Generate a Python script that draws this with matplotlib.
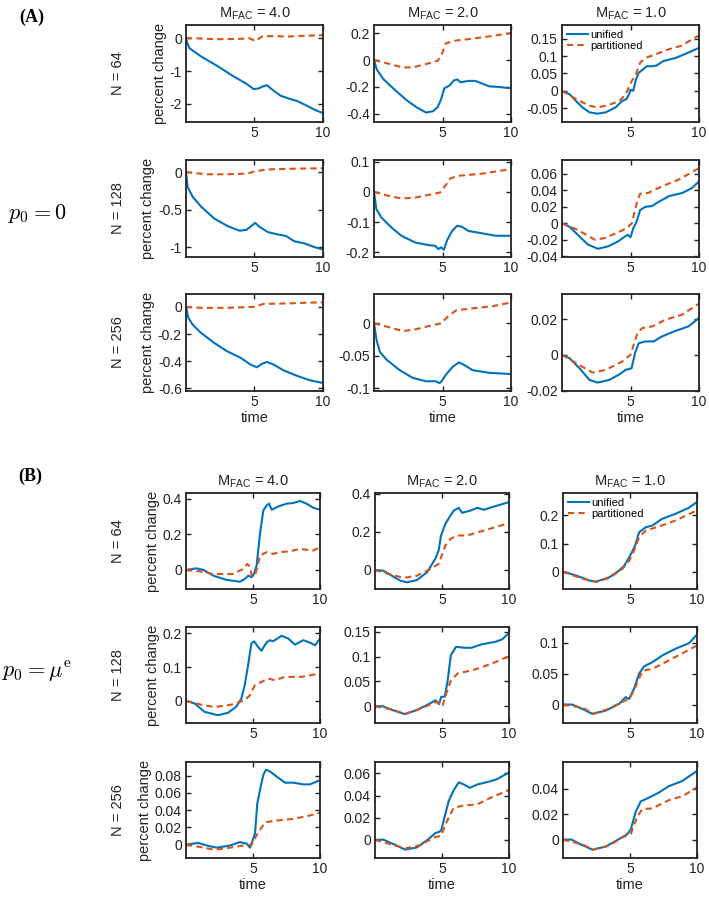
import matplotlib
matplotlib.use("Agg")
import matplotlib.pyplot as plt
from matplotlib.ticker import FuncFormatter

plt.rcParams['font.family'] = ['Liberation Sans', 'DejaVu Sans']
plt.rcParams['axes.unicode_minus'] = False
plt.rcParams['mathtext.fontset'] = 'cm'

# ---------------- labels ----------------
col_titles = ['4.0', '2.0', '1.0']
row_labels = ['N = 64', 'N = 128', 'N = 256']
part_labels = ['(A)', '(B)']
part_p0 = [r'$p_0 = 0$', r'$p_0 = \mu^{\mathrm{e}}$']
series_names = ['unified', 'partitioned']
x_ticks = [5, 10]

# ---------------- Part A data ----------------
# A row1 col1 (M=4.0, N=64)
A11_ut = [0, 0.07, 0.24, 1.08, 2.3, 3.5, 4.46, 4.94, 5.3, 5.6, 5.9, 6.4, 6.9, 7.6, 8.1, 8.8, 9.4, 10]
A11_u = [0, -0.12, -0.3, -0.55, -0.85, -1.17, -1.4, -1.55, -1.53, -1.47, -1.43, -1.6, -1.75, -1.85, -1.91, -2.05, -2.18, -2.28]
A11_pt = [0, 1, 2, 3, 4, 4.6, 5.1, 5.3, 5.6, 6.5, 7.5, 8.5, 10]
A11_p = [0, -0.01, -0.03, -0.03, -0.02, 0.0, -0.09, -0.02, 0.06, 0.06, 0.05, 0.07, 0.09]
A11_ticks = [-2, -1, 0]
A11_lim = (-2.55, 0.4)

# A row1 col2 (M=2.0, N=64)
A12_ut = [0, 0.2, 0.67, 1.4, 2.4, 3.1, 3.8, 4.3, 4.65, 4.9, 5.13, 5.5, 5.85, 6.1, 6.3, 6.9, 7.4, 7.9, 8.4, 9.1, 10]
A12_u = [0, -0.07, -0.14, -0.21, -0.3, -0.35, -0.39, -0.38, -0.35, -0.29, -0.21, -0.19, -0.15, -0.145, -0.165, -0.155, -0.155, -0.175, -0.195, -0.2, -0.21]
A12_pt = [0, 1.16, 2.1, 2.8, 3.8, 4.65, 4.9, 5.25, 6.0, 6.9, 8.4, 10]
A12_p = [0, -0.03, -0.055, -0.055, -0.03, -0.005, 0.03, 0.125, 0.145, 0.155, 0.175, 0.2]
A12_ticks = [-0.4, -0.2, 0, 0.2]
A12_lim = (-0.46, 0.26)

# A row1 col3 (M=1.0, N=64)
A13_ut = [0, 0.55, 1.04, 1.5, 2.0, 2.6, 3.2, 3.9, 4.4, 4.7, 4.9, 5.0, 5.2, 5.4, 5.6, 5.85, 6.2, 6.6, 6.9, 7.4, 8.3, 9.2, 10]
A13_u = [0, -0.01, -0.03, -0.048, -0.062, -0.066, -0.062, -0.048, -0.029, -0.024, -0.01, 0.003, 0.0, 0.033, 0.052, 0.06, 0.071, 0.071, 0.073, 0.086, 0.095, 0.11, 0.124]
A13_pt = [0, 1.04, 2.0, 2.6, 3.4, 4.2, 4.65, 5.1, 5.4, 5.7, 6.1, 6.8, 7.8, 8.7, 10]
A13_p = [0, -0.024, -0.043, -0.048, -0.041, -0.029, -0.01, 0.029, 0.048, 0.081, 0.095, 0.105, 0.12, 0.13, 0.16]
A13_ticks = [-0.05, 0, 0.05, 0.1, 0.15]
A13_lim = (-0.09, 0.19)

# A row2 col1 (M=4.0, N=128)
A21_ut = [0, 0.12, 0.49, 1.1, 2.07, 3.05, 3.9, 4.4, 4.76, 5.05, 5.37, 6.0, 6.7, 7.3, 7.9, 8.66, 9.4, 10]
A21_u = [0, -0.2, -0.33, -0.46, -0.62, -0.72, -0.78, -0.77, -0.72, -0.676, -0.73, -0.8, -0.83, -0.85, -0.92, -0.95, -1.0, -1.03]
A21_pt = [0, 1.5, 3.0, 4.5, 5.0, 6.0, 8.0, 10]
A21_p = [0, -0.03, -0.03, -0.02, 0.01, 0.035, 0.045, 0.05]
A21_ticks = [-1, -0.5, 0]
A21_lim = (-1.13, 0.16)

# A row2 col2 (M=2.0, N=128)
A22_ut = [0, 0.17, 0.54, 1.28, 2.0, 3.0, 4.0, 4.47, 4.7, 4.9, 5.1, 5.33, 5.7, 6.07, 6.4, 6.9, 7.9, 8.9, 10]
A22_u = [0, -0.057, -0.085, -0.118, -0.145, -0.167, -0.176, -0.178, -0.189, -0.183, -0.191, -0.16, -0.129, -0.112, -0.115, -0.129, -0.137, -0.145, -0.145]
A22_pt = [0, 1.03, 2.0, 3.0, 4.0, 4.84, 5.2, 5.6, 6.2, 7.9, 10]
A22_p = [0, -0.013, -0.022, -0.019, -0.01, -0.002, 0.02, 0.045, 0.053, 0.06, 0.075]
A22_ticks = [-0.2, -0.1, 0, 0.1]
A22_lim = (-0.215, 0.105)

# A row2 col3 (M=1.0, N=128)
A23_ut = [0, 0.54, 1.15, 1.9, 2.63, 3.37, 4.1, 4.6, 4.8, 5.0, 5.2, 5.45, 5.7, 6.07, 6.56, 7.05, 7.8, 8.8, 9.5, 10]
A23_u = [0, -0.004, -0.014, -0.026, -0.031, -0.028, -0.022, -0.016, -0.014, -0.017, -0.006, 0.002, 0.016, 0.02, 0.021, 0.026, 0.033, 0.037, 0.043, 0.051]
A23_pt = [0, 1.15, 2.4, 3.1, 4.1, 4.7, 5.1, 5.45, 5.7, 6.3, 7.3, 8.5, 10]
A23_p = [0, -0.008, -0.02, -0.018, -0.011, -0.006, 0.0, 0.024, 0.036, 0.037, 0.045, 0.053, 0.067]
A23_ticks = [-0.04, -0.02, 0, 0.02, 0.04, 0.06]
A23_lim = (-0.041, 0.077)

# A row3 col1 (M=4.0, N=256)
A31_ut = [0, 0.17, 0.48, 1.08, 2.05, 3.0, 4.0, 4.7, 5.18, 5.54, 5.9, 6.4, 7.1, 8.07, 9.04, 10]
A31_u = [0, -0.08, -0.13, -0.19, -0.265, -0.327, -0.376, -0.425, -0.445, -0.42, -0.406, -0.425, -0.467, -0.507, -0.541, -0.561]
A31_pt = [0, 1.08, 3.0, 4.94, 5.66, 7.1, 10]
A31_p = [0, -0.007, -0.007, 0.0, 0.022, 0.025, 0.034]
A31_ticks = [-0.6, -0.4, -0.2, 0]
A31_lim = (-0.62, 0.095)

# A row3 col2 (M=2.0, N=256)
A32_ut = [0, 0.19, 0.43, 0.92, 1.88, 2.84, 3.8, 4.5, 4.77, 4.9, 5.25, 5.73, 6.2, 6.58, 7.2, 8.4, 10]
A32_u = [0, -0.026, -0.044, -0.056, -0.072, -0.084, -0.089, -0.089, -0.092, -0.09, -0.079, -0.067, -0.06, -0.064, -0.072, -0.076, -0.078]
A32_pt = [0, 0.92, 2.1, 3.08, 4.05, 4.9, 5.37, 6.0, 7.2, 8.6, 10]
A32_p = [0, -0.005, -0.012, -0.009, -0.004, 0.0, 0.01, 0.02, 0.023, 0.026, 0.032]
A32_ticks = [-0.1, -0.05, 0]
A32_lim = (-0.104, 0.045)

# A row3 col3 (M=1.0, N=256)
A33_ut = [0, 0.55, 1.28, 2.0, 2.6, 3.45, 4.17, 4.65, 5.08, 5.33, 5.6, 6.1, 6.7, 7.3, 8.15, 9.23, 10]
A33_u = [0, -0.0019, -0.0075, -0.014, -0.0155, -0.014, -0.011, -0.0084, -0.0075, 0.001, 0.0065, 0.0075, 0.0075, 0.0103, 0.013, 0.0159, 0.0206]
A33_pt = [0, 1.04, 2.24, 3.2, 4.4, 5.0, 5.5, 5.86, 6.6, 7.54, 8.75, 10]
A33_p = [0, -0.0047, -0.0099, -0.0084, -0.0037, 0.0, 0.012, 0.015, 0.0159, 0.0196, 0.0224, 0.0286]
A33_ticks = [-0.02, 0, 0.02]
A33_lim = (-0.0202, 0.034)

# ---------------- Part B data ----------------
B11_ut = [0, 0.8, 1.3, 2.04, 3.03, 4.03, 4.4, 4.65, 4.9, 5.07, 5.27, 5.52, 5.77, 6.02, 6.2, 6.4, 6.9, 7.5, 8.0, 8.5, 9.0, 9.5, 10]
B11_u = [0, 0.009, 0.0, -0.032, -0.056, -0.066, -0.05, -0.032, -0.041, -0.023, 0.024, 0.203, 0.334, 0.362, 0.372, 0.338, 0.357, 0.372, 0.376, 0.387, 0.372, 0.349, 0.338]
B11_pt = [0, 1.05, 2.04, 3.5, 4.28, 4.58, 4.78, 4.9, 5.15, 5.32, 5.52, 6.02, 6.5, 7.0, 7.5, 8.0, 8.5, 9.5, 10]
B11_p = [0, -0.008, -0.023, -0.023, 0.006, 0.034, 0.015, -0.032, -0.032, 0.015, 0.081, 0.1, 0.09, 0.1, 0.103, 0.109, 0.118, 0.109, 0.128]
B11_ticks = [0, 0.2, 0.4]
B11_lim = (-0.107, 0.432)

B12_ut = [0, 0.63, 1.13, 1.88, 2.38, 3.13, 3.88, 4.5, 4.75, 4.93, 5.25, 5.63, 5.88, 6.25, 6.5, 7.13, 7.63, 8.13, 8.88, 10]
B12_u = [0, -0.004, -0.025, -0.056, -0.065, -0.053, -0.012, 0.058, 0.102, 0.181, 0.242, 0.286, 0.312, 0.326, 0.3, 0.312, 0.326, 0.316, 0.333, 0.356]
B12_pt = [0, 0.88, 2.13, 3.13, 4.13, 4.75, 5.25, 5.63, 6.13, 6.88, 8.13, 10]
B12_p = [0, -0.018, -0.042, -0.03, 0.005, 0.032, 0.128, 0.163, 0.181, 0.181, 0.207, 0.246]
B12_ticks = [0, 0.2, 0.4]
B12_lim = (-0.1, 0.404)

B13_ut = [0, 0.99, 1.98, 2.47, 3.46, 4.2, 4.57, 4.94, 5.14, 5.38, 5.68, 6.17, 6.67, 7.4, 8.4, 9.38, 10]
B13_u = [0, -0.014, -0.032, -0.036, -0.02, 0.004, 0.021, 0.051, 0.069, 0.093, 0.14, 0.158, 0.164, 0.188, 0.206, 0.227, 0.248]
B13_pt = [0, 1.48, 2.47, 3.46, 4.44, 4.94, 5.31, 5.68, 6.17, 7.16, 8.4, 10]
B13_p = [0, -0.026, -0.036, -0.023, 0.01, 0.039, 0.075, 0.123, 0.146, 0.161, 0.182, 0.218]
B13_ticks = [0, 0.1, 0.2]
B13_lim = (-0.062, 0.28)

B21_ut = [0, 0.63, 1.38, 2.38, 3.13, 3.75, 4.13, 4.38, 4.63, 4.88, 5.08, 5.38, 5.63, 6.0, 6.25, 6.5, 7.13, 7.63, 8.13, 8.75, 9.25, 9.63, 10]
B21_u = [0, -0.007, -0.032, -0.042, -0.035, -0.017, 0.007, 0.046, 0.105, 0.169, 0.176, 0.159, 0.148, 0.172, 0.179, 0.176, 0.192, 0.184, 0.166, 0.179, 0.172, 0.164, 0.184]
B21_pt = [0, 1.13, 2.13, 3.38, 4.38, 4.75, 5.13, 5.63, 6.13, 6.63, 7.38, 8.63, 10]
B21_p = [0, -0.011, -0.018, -0.011, 0.002, 0.016, 0.046, 0.056, 0.066, 0.061, 0.071, 0.071, 0.081]
B21_ticks = [0, 0.1, 0.2]
B21_lim = (-0.065, 0.218)

B22_ut = [0, 0.56, 1.33, 2.22, 3.11, 4.0, 4.52, 4.77, 4.95, 5.2, 5.41, 5.66, 6.05, 6.68, 7.2, 7.96, 8.98, 9.49, 10]
B22_u = [0, 0.0, -0.008, -0.016, -0.008, 0.004, 0.012, 0.004, 0.019, 0.019, 0.049, 0.103, 0.12, 0.118, 0.118, 0.125, 0.13, 0.135, 0.148]
B22_pt = [0, 1.33, 2.22, 3.37, 4.64, 5.03, 5.28, 5.66, 6.17, 7.45, 8.72, 10]
B22_p = [0, -0.007, -0.016, -0.005, 0.009, 0.0, 0.022, 0.052, 0.066, 0.074, 0.086, 0.101]
B22_ticks = [0, 0.05, 0.1, 0.15]
B22_lim = (-0.034, 0.16)

B23_ut = [0, 0.68, 1.43, 2.18, 3.18, 4.18, 4.68, 4.93, 5.3, 5.68, 6.05, 6.68, 7.43, 8.43, 9.43, 10]
B23_u = [0, 0.0, -0.007, -0.015, -0.01, 0.001, 0.012, 0.009, 0.026, 0.05, 0.062, 0.069, 0.08, 0.091, 0.1, 0.114]
B23_pt = [0, 1.43, 2.3, 3.43, 4.18, 4.93, 5.3, 5.93, 6.68, 7.93, 10]
B23_p = [0, -0.005, -0.015, -0.007, 0.002, 0.009, 0.023, 0.055, 0.058, 0.072, 0.096]
B23_ticks = [0, 0.05, 0.1]
B23_lim = (-0.03, 0.126)

B31_ut = [0, 0.92, 1.54, 2.29, 3.28, 4.03, 4.53, 4.78, 5.02, 5.15, 5.32, 5.57, 5.77, 5.97, 6.27, 6.77, 7.39, 8.01, 8.76, 9.25, 10]
B31_u = [0, 0.002, -0.001, -0.0035, -0.001, 0.003, 0.001, -0.0035, 0.007, 0.013, 0.048, 0.067, 0.081, 0.087, 0.085, 0.079, 0.072, 0.072, 0.07, 0.07, 0.075]
B31_pt = [0, 1.04, 2.16, 3.28, 4.28, 4.9, 5.27, 5.9, 6.77, 8.01, 9.0, 10]
B31_p = [0, -0.0027, -0.006, -0.0035, -0.001, 0.0, 0.011, 0.026, 0.028, 0.03, 0.033, 0.037]
B31_ticks = [0, 0.02, 0.04, 0.06, 0.08]
B31_lim = (-0.0155, 0.096)

B32_ut = [0, 0.63, 1.38, 2.25, 3.13, 4.0, 4.5, 4.75, 4.93, 5.18, 5.5, 5.88, 6.25, 6.63, 7.08, 7.63, 8.63, 9.13, 10]
B32_u = [0, 0.0, -0.004, -0.009, -0.007, 0.0006, 0.006, 0.007, 0.008, 0.02, 0.035, 0.045, 0.052, 0.05, 0.047, 0.05, 0.053, 0.055, 0.061]
B32_pt = [0, 1.13, 2.25, 3.38, 4.38, 4.93, 5.38, 5.88, 6.63, 7.63, 8.63, 10]
B32_p = [0, -0.004, -0.008, -0.005, 0.002, 0.0036, 0.017, 0.029, 0.031, 0.032, 0.038, 0.045]
B32_ticks = [0, 0.02, 0.04, 0.06]
B32_lim = (-0.0166, 0.0704)

B33_ut = [0, 0.62, 1.48, 2.22, 3.21, 4.2, 4.81, 5.06, 5.43, 5.8, 6.42, 7.16, 7.9, 8.89, 10]
B33_u = [0, 0.0, -0.0046, -0.008, -0.0054, 0.0005, 0.0044, 0.008, 0.022, 0.03, 0.033, 0.037, 0.042, 0.046, 0.054]
B33_pt = [0, 1.48, 2.22, 3.46, 4.44, 5.06, 5.56, 5.93, 6.67, 7.9, 8.89, 10]
B33_p = [0, -0.0039, -0.008, -0.0046, 0.0018, 0.0044, 0.0186, 0.024, 0.0245, 0.031, 0.034, 0.041]
B33_ticks = [0, 0.02, 0.04]
B33_lim = (-0.0145, 0.061)

panels = {
    'A11': (A11_ut, A11_u, A11_pt, A11_p, A11_ticks, A11_lim),
    'A12': (A12_ut, A12_u, A12_pt, A12_p, A12_ticks, A12_lim),
    'A13': (A13_ut, A13_u, A13_pt, A13_p, A13_ticks, A13_lim),
    'A21': (A21_ut, A21_u, A21_pt, A21_p, A21_ticks, A21_lim),
    'A22': (A22_ut, A22_u, A22_pt, A22_p, A22_ticks, A22_lim),
    'A23': (A23_ut, A23_u, A23_pt, A23_p, A23_ticks, A23_lim),
    'A31': (A31_ut, A31_u, A31_pt, A31_p, A31_ticks, A31_lim),
    'A32': (A32_ut, A32_u, A32_pt, A32_p, A32_ticks, A32_lim),
    'A33': (A33_ut, A33_u, A33_pt, A33_p, A33_ticks, A33_lim),
    'B11': (B11_ut, B11_u, B11_pt, B11_p, B11_ticks, B11_lim),
    'B12': (B12_ut, B12_u, B12_pt, B12_p, B12_ticks, B12_lim),
    'B13': (B13_ut, B13_u, B13_pt, B13_p, B13_ticks, B13_lim),
    'B21': (B21_ut, B21_u, B21_pt, B21_p, B21_ticks, B21_lim),
    'B22': (B22_ut, B22_u, B22_pt, B22_p, B22_ticks, B22_lim),
    'B23': (B23_ut, B23_u, B23_pt, B23_p, B23_ticks, B23_lim),
    'B31': (B31_ut, B31_u, B31_pt, B31_p, B31_ticks, B31_lim),
    'B32': (B32_ut, B32_u, B32_pt, B32_p, B32_ticks, B32_lim),
    'B33': (B33_ut, B33_u, B33_pt, B33_p, B33_ticks, B33_lim),
}

# ---------------- layout ----------------
W, H = 709, 897
fig = plt.figure(figsize=(W / 100, H / 100), dpi=100)
fig.patch.set_facecolor('white')

BLUE = '#0072BD'
ORANGE = '#D95319'

col_left = {'A': [186, 374, 562], 'B': [186, 375, 563]}
col_w = {'A': 137, 'B': 134}
row_top = {'A': [25, 160, 294], 'B': [493, 627, 762]}
row_h = {'A': 97, 'B': 96}

fmt = FuncFormatter(lambda v, p: ('%g' % round(v, 6)))

for part in ['A', 'B']:
    for r in range(3):
        for c in range(3):
            key = f'{part}{r+1}{c+1}'
            ut, u, pt, p, yt, ylim = panels[key]
            left = col_left[part][c]
            top = row_top[part][r]
            w = col_w[part]
            h = row_h[part]
            ax = fig.add_axes([left / W, (H - top - h) / H, w / W, h / H])
            ax.plot(ut, u, color=BLUE, lw=1.5, label=series_names[0])
            ax.plot(pt, p, color=ORANGE, lw=1.5, ls=(0, (3.0, 2.0)), label=series_names[1])
            ax.set_xlim(0, 10)
            ax.set_ylim(*ylim)
            ax.set_xticks(x_ticks)
            ax.set_yticks(yt)
            ax.yaxis.set_major_formatter(fmt)
            ax.tick_params(direction='in', top=True, right=True, length=3.5, width=1.0,
                           labelsize=10, pad=3, color='#222222', labelcolor='#222222')
            for s in ax.spines.values():
                s.set_linewidth(1.3)
                s.set_color('#222222')
            if r == 0:
                ax.set_title(r'$\mathregular{M_{FAC}}$ = ' + col_titles[c], fontsize=10.5, pad=5, color='#222222')
                if c == 2:
                    ax.legend(loc='upper left', frameon=False, fontsize=8, handlelength=1.9,
                              handletextpad=0.2, borderaxespad=0.25, labelspacing=0.1,
                              borderpad=0.2)
            if r == 2:
                ax.set_xlabel('time', fontsize=10.5, labelpad=1, color='#222222')
            if c == 0:
                ax.set_ylabel('percent change', fontsize=10.5, labelpad=2, color='#222222')
                fig.text(118 / W, 1 - (top + h / 2) / H, row_labels[r], rotation=90,
                         ha='center', va='center', fontsize=10.5, color='#222222')

fig.text(32 / W, 1 - 17 / H, part_labels[0], fontsize=13, fontweight='bold',
         family='Liberation Serif', ha='center', va='center')
fig.text(30 / W, 1 - 476 / H, part_labels[1], fontsize=13, fontweight='bold',
         family='Liberation Serif', ha='center', va='center')
fig.text(37 / W, 1 - 213 / H, part_p0[0], fontsize=16, ha='center', va='center')
fig.text(37 / W, 1 - 672 / H, part_p0[1], fontsize=16, ha='center', va='center')

fig.savefig('out.png', dpi=100, facecolor='white')
